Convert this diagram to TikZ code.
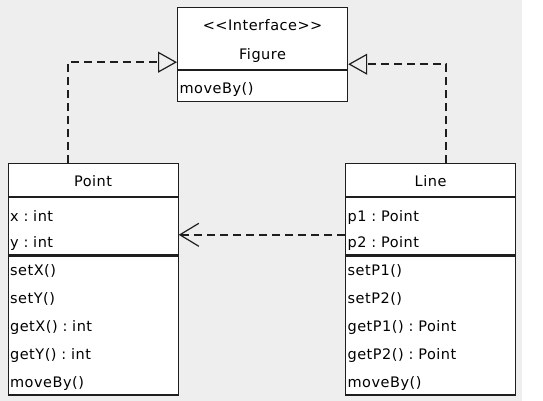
\documentclass[tikz,border=0pt]{standalone}
\usepackage{fontspec}
\setmainfont{DejaVu Sans}[LetterSpace=3.5]
\usepackage{xcolor}
\definecolor{umlbg}{RGB}{238,238,238}
\definecolor{umlline}{RGB}{30,30,30}
\usetikzlibrary{arrows.meta,positioning,calc}
\tikzset{
  umlhead/.style={draw=umlline, fill=white, line width=1.2pt, anchor=north west,
                  text width=166pt, minimum height=#1, inner xsep=2pt, inner ysep=0pt,
                  align=center, font=\fontsize{14.5}{29}\selectfont\frenchspacing},
  umlattr/.style={draw=umlline, fill=white, line width=1.2pt, anchor=north west,
                  text width=166pt, minimum height=#1, inner xsep=2pt, inner ysep=0pt,
                  align=left, font=\fontsize{14.5}{26}\selectfont\frenchspacing},
  umlops/.style={draw=umlline, fill=white, line width=1.2pt, anchor=north west,
                 text width=166pt, minimum height=#1, inner xsep=2pt, inner ysep=0pt,
                 align=left, font=\fontsize{14.5}{28}\selectfont\frenchspacing},
  toprule/.style={execute at begin node={\rule{0pt}{#1}}},
  realize/.style={draw=umlline, line width=1.5pt, dash pattern=on 8pt off 5pt,
                  -{Triangle[open, length=19pt, width=21pt, line width=1.2pt]}},
  depend/.style={draw=umlline, line width=1.5pt, dash pattern=on 8pt off 5pt,
                 -{Straight Barb[length=19pt, width=23pt, line width=1.2pt]}},
}

\begin{document}
\begin{tikzpicture}[x=1pt, y=-1pt]

\useasboundingbox (0,0) rectangle (543,401);
\fill[white] (0,0) rectangle (543,401);
\fill[umlbg] (0,0) rectangle (522,401);

% Interface: Figure
\node[umlhead=62pt, toprule=16pt] (figHead) at (177,7) {<{}<Interface>{}>\\Figure};
\node[umlops=31pt, toprule=17pt, below=0pt of figHead.south west, anchor=north west] (figOps)
      {moveBy()};

% Class: Point
\node[umlhead=33pt, toprule=13pt] (pointHead) at (7.5,163) {Point};
\node[umlattr=57pt, toprule=19pt, below=0pt of pointHead.south west, anchor=north west] (pointAttr)
      {x : int\\y : int};
\node[umlops=139pt, toprule=15pt, below=0pt of pointAttr.south west, anchor=north west] (pointOps)
      {setX()\\setY()\\getX() : int\\getY() : int\\moveBy()};

% Class: Line
\node[umlhead=33pt, toprule=13pt] (lineHead) at (345,163) {Line};
\node[umlattr=57pt, toprule=19pt, below=0pt of lineHead.south west, anchor=north west] (lineAttr)
      {p1 : Point\\p2 : Point};
\node[umlops=139pt, toprule=15pt, below=0pt of lineAttr.south west, anchor=north west] (lineOps)
      {setP1()\\setP2()\\getP1() : Point\\getP2() : Point\\moveBy()};

% Realizations
\draw[realize] ([xshift=-25pt]pointHead.north) |- ([yshift=8pt]figHead.south west);
\draw[realize] ([xshift=15.5pt]lineHead.north) |- ([yshift=6pt]figHead.south east);

% Dependency
\draw[depend] ([yshift=-8.5pt]lineAttr.west) -- ([yshift=-8.5pt]pointAttr.east);

\end{tikzpicture}
\end{document}
